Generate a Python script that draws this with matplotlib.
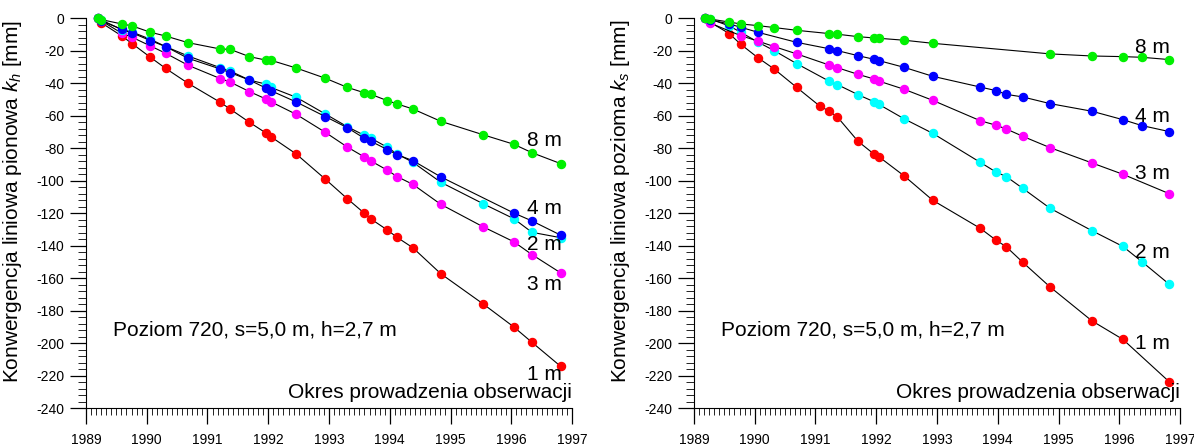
import matplotlib
matplotlib.use("Agg")
import matplotlib.pyplot as plt
from matplotlib.ticker import MultipleLocator
import numpy as np

plt.rcParams['font.family'] = ['Liberation Sans', 'DejaVu Sans']
plt.rcParams['mathtext.fontset'] = 'custom'
plt.rcParams['mathtext.rm'] = 'Liberation Sans'
plt.rcParams['mathtext.it'] = 'Liberation Sans:italic'
plt.rcParams['axes.unicode_minus'] = False

# ---- data: left panel (vertical convergence k_h) ----
dates_left = [1989.19, 1989.25, 1989.59, 1989.76, 1990.06, 1990.31, 1990.68,
              1991.21, 1991.37, 1991.69, 1991.97, 1992.04, 1992.46, 1992.94,
              1993.30, 1993.57, 1993.69, 1993.96, 1994.12, 1994.38, 1994.84,
              1995.53, 1996.04, 1996.34, 1996.81]
nan = np.nan
kh_1m = [0, -2.7, -10.9, -15.6, -24, -30.8, -40, -51.7, -55.8, -64, -70.8, -72.8,
         -83.5, -99, -111, -119.6, -123.5, -130.3, -134.8, -141.2, -157.2, -175.6,
         -189.9, -199.4, -214.1]
kh_3m = [0, -1.5, -9.2, -11.7, -17, -21.5, -28.9, -37.1, -39.2, -45.1, -49.8, -51.3,
         -59.1, -70.2, -79.2, -85.1, -87.8, -93.5, -97.4, -102.2, -114.5, -128.2,
         -137.5, -145.4, -156.6]
kh_2m = [0, -1, -7, -8.5, -12.9, -17.4, -23.2, -30.4, -32.4, -38, -40.6, -42.5,
         -48.6, -58.9, -66.7, -71.8, -73.8, -79.4, -83.5, -88.6, -100.9, -114,
         -123.3, -131.7, -135]
kh_4m = [0, -1.5, -6.8, -9, -13.7, -17.4, -24.6, -31.2, -33.4, -38, -43.1, -44.5,
         -51.5, -60.5, -67.3, -73.6, -75.7, -80.8, -83.9, -87.6, -97.6, nan,
         -119.8, -124.7, -133.4]
kh_8m = [0, -0.8, -3.5, -4.7, -8.6, -10.9, -15, -18.9, -19.1, -23.6, -25.8, -25.8,
         -30.6, -36.9, -42.5, -45.7, -46.8, -50.7, -52.7, -55.8, -63.4, -71.6,
         -77.5, -82.7, -89.4]

# ---- data: right panel (horizontal convergence k_s) ----
dates_right = [1989.18, 1989.27, 1989.58, 1989.77, 1990.05, 1990.32, 1990.69,
               1991.07, 1991.22, 1991.36, 1991.70, 1991.96, 1992.04, 1992.46,
               1992.93, 1993.71, 1993.97, 1994.14, 1994.41, 1994.86, 1995.55,
               1996.06, 1996.37, 1996.82]
ks_1m = [0, -2.5, -9.4, -16, -24.2, -31.2, -42.5, -54, -57, -60.7, -75.7, -83.5,
         -85.1, -97, -112, -129.2, -136.5, -140.6, -150.1, -165.3, -186.2, -197.6,
         nan, -223.6]
ks_2m = [0, -0.5, -4.7, -8.6, -14.6, -19.9, -27.9, nan, -38.6, -40.8, -47, -51.3,
         -52.9, -61.9, -70.8, -88.6, -94.6, -97.4, -104.6, -116.9, -130.7, -140.4,
         -149.7, -163.6]
ks_3m = [0, -3, nan, -10.7, -14, -17.4, -21.9, nan, -28.7, -30.4, -34.5, -37.3,
         -38.6, -43.7, -50.5, -63, -65.8, -68.1, -72.6, -79.6, -89, -96, nan, -107.9]
ks_4m = [0, -1, -3.5, -5.5, -8.6, nan, -14.8, nan, -18.7, -19.9, -23, -25.2, -26,
         -30.2, -35.7, -42.3, -44.5, -46.8, -48.4, -52.5, -57.2, -62.4, -66, -69.7]
ks_8m = [0, -0.5, -2.3, -3.5, -4.5, -5.7, -7.4, nan, -9.4, -9.8, -11.3, -12.1,
         -12.3, -13.5, -15.4, nan, nan, nan, nan, -21.9, -23.2, -23.6, -24, -25.4]

colors = {'1 m': '#ff0000', '3 m': '#ff00ff', '2 m': '#00ffff',
          '4 m': '#0000ff', '8 m': '#00f000'}

left_series = [('1 m', kh_1m), ('3 m', kh_3m), ('2 m', kh_2m), ('4 m', kh_4m), ('8 m', kh_8m)]
right_series = [('1 m', ks_1m), ('2 m', ks_2m), ('3 m', ks_3m), ('4 m', ks_4m), ('8 m', ks_8m)]

# label positions (value)
left_labels = {'8 m': -75.5, '4 m': -117.3, '2 m': -139.5, '3 m': -164, '1 m': -219.5}
right_labels = {'8 m': -18, '4 m': -60.2, '3 m': -95.3, '2 m': -144, '1 m': -200.4}

fig = plt.figure(figsize=(11.94, 4.47), dpi=100)
ax1 = fig.add_axes([0.0720, 0.0866, 0.4071, 0.8725])
ax2 = fig.add_axes([0.5812, 0.0866, 0.4071, 0.8725])


def draw(ax, dates, series, labels, ylabel):
    d = np.array(dates)
    for name, vals in series:
        v = np.array(vals, dtype=float)
        ok = ~np.isnan(v)
        ax.plot(d[ok], v[ok], color='black', linewidth=0.8,
                marker='o', markersize=5.8, markerfacecolor=colors[name],
                markeredgecolor=colors[name], clip_on=False)
    for name, yv in labels.items():
        ax.text(1996.26, yv, name, fontsize=15, ha='left', va='center')
    ax.text(1989.44, -192, 'Poziom 720, s=5,0 m, h=2,7 m', fontsize=15,
            ha='left', va='center')
    ax.text(1997, -230, 'Okres prowadzenia obserwacji', fontsize=15,
            ha='right', va='center')

    ax.set_xlim(1989, 1997)
    ax.set_ylim(-240, 0)
    ax.spines['top'].set_visible(False)
    ax.spines['right'].set_visible(False)
    ax.xaxis.set_major_locator(MultipleLocator(1))
    ax.xaxis.set_minor_locator(MultipleLocator(1 / 12))
    ax.yaxis.set_major_locator(MultipleLocator(20))
    ax.yaxis.set_minor_locator(MultipleLocator(4))
    ax.tick_params(axis='x', which='major', direction='out', length=11.5,
                   width=0.9, labelsize=10, pad=6)
    ax.tick_params(axis='x', which='minor', direction='out', length=5, width=0.6)
    ax.tick_params(axis='y', which='major', direction='out', length=11.5,
                   width=0.9, labelsize=10, pad=4)
    ax.tick_params(axis='y', which='minor', direction='out', length=6, width=0.6)
    ax.set_ylabel(ylabel, fontsize=15)
    ax.yaxis.set_label_coords(-0.128, 0.53)


draw(ax1, dates_left, left_series, left_labels,
     'Konwergencja liniowa pionowa $k_h$ [mm]')
draw(ax2, dates_right, right_series, right_labels,
     'Konwergencja liniowa pozioma $k_s$ [mm]')

fig.savefig('out.png', dpi=100)
